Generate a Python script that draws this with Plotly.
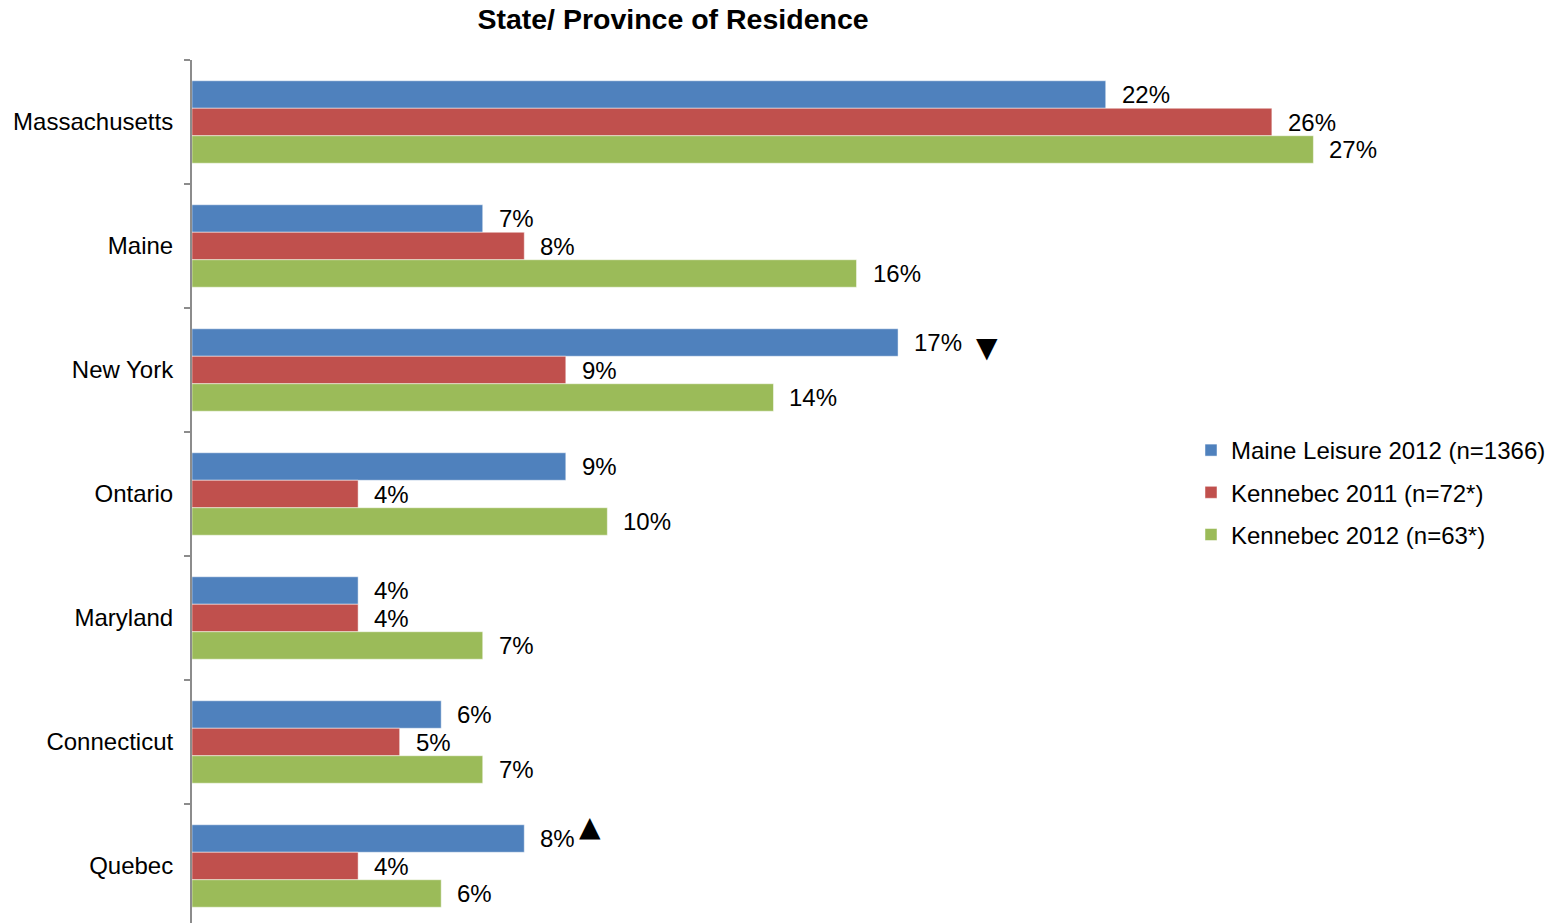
import plotly.graph_objects as go

categories = ["Massachusetts", "Maine", "New York", "Ontario", "Maryland", "Connecticut", "Quebec"]
series_names = ["Maine Leisure 2012 (n=1366)", "Kennebec 2011 (n=72*)", "Kennebec 2012 (n=63*)"]
maine_leisure_2012 = [22, 7, 17, 9, 4, 6, 8]
kennebec_2011 = [26, 8, 9, 4, 4, 5, 4]
kennebec_2012 = [27, 16, 14, 10, 7, 7, 6]
colors = ["#4F81BD", "#C0504D", "#9BBB59"]
# significance markers: (series index, category, symbol)
sig_marks = [(0, "New York", "▼"), (0, "Quebec", "▲")]

series_values = [maine_leisure_2012, kennebec_2011, kennebec_2012]

W, H = 1560, 923
ml, mr, mt, mb = 192, 122, 60, 0
xmax = 30
pitch = 124.0
bargap = 0.335
n = len(categories)

fig = go.Figure()
for name, vals, c in zip(series_names, series_values, colors):
    fig.add_trace(go.Bar(
        y=categories, x=vals, name=name, orientation="h",
        marker=dict(color=c, line=dict(color="rgba(255,255,255,0.6)", width=0.8)),
        legendgroup=name, hoverinfo="skip",
    ))

bar_w = (1 - bargap) / len(series_values)
annotations = []
for si, vals in enumerate(series_values):
    off = (si - (len(series_values) - 1) / 2) * bar_w
    for ci, v in enumerate(vals):
        annotations.append(dict(
            x=v, y=ci + off, xref="x", yref="y", text=f"{v}%", showarrow=False,
            xanchor="left", yanchor="middle", xshift=14,
            font=dict(family="Liberation Sans, Arial, sans-serif", size=24, color="#000000"),
        ))

shifts = {"▼": (89, -5), "▲": (66, 12)}
for si, cat, sym in sig_marks:
    ci = categories.index(cat)
    off = (si - (len(series_values) - 1) / 2) * bar_w
    xs, ys = shifts[sym]
    annotations.append(dict(
        x=series_values[si][ci], y=ci + off, xref="x", yref="y", text=sym, showarrow=False,
        xanchor="center", yanchor="middle", xshift=xs, yshift=ys,
        font=dict(family="DejaVu Sans", size=28, color="#000000"),
    ))

plot_h = H - mt - mb
plot_w = W - ml - mr
fig.update_layout(
    width=W, height=H,
    margin=dict(l=ml, r=mr, t=mt, b=mb),
    paper_bgcolor="white", plot_bgcolor="white",
    barmode="group", bargap=bargap, bargroupgap=0,
    font=dict(family="Liberation Sans, Arial, sans-serif", size=24, color="#000000"),
    title=dict(text="<b>State/ Province of Residence</b>", x=673 / W, xref="container", xanchor="center",
               y=1 - 19 / H, yref="container", yanchor="middle",
               font=dict(size=28.5, color="#000000")),
    showlegend=True,
    legend=dict(x=(1191 - ml) / plot_w, y=(H - 428) / plot_h, xanchor="left", yanchor="top",
                traceorder="grouped", tracegroupgap=8, bgcolor="rgba(0,0,0,0)",
                font=dict(size=24, color="#000000")),
    xaxis=dict(range=[0, xmax], showticklabels=False, showgrid=False, zeroline=False, showline=False,
               fixedrange=True),
    yaxis=dict(type="category", range=[-0.5 + plot_h / pitch, -0.5], showgrid=False, zeroline=False,
               showline=True, linecolor="#8c8c8c", linewidth=2,
               ticks="outside", tickson="boundaries", ticklen=6, tickcolor="#8c8c8c", tickwidth=2,
               ticklabelstandoff=12, tickfont=dict(size=24, color="#000000"), fixedrange=True),
    annotations=annotations,
)

fig.write_html("out.html", config={"displayModeBar": False},
               post_script="document.body.style.margin='0';document.body.style.overflow='hidden';")
